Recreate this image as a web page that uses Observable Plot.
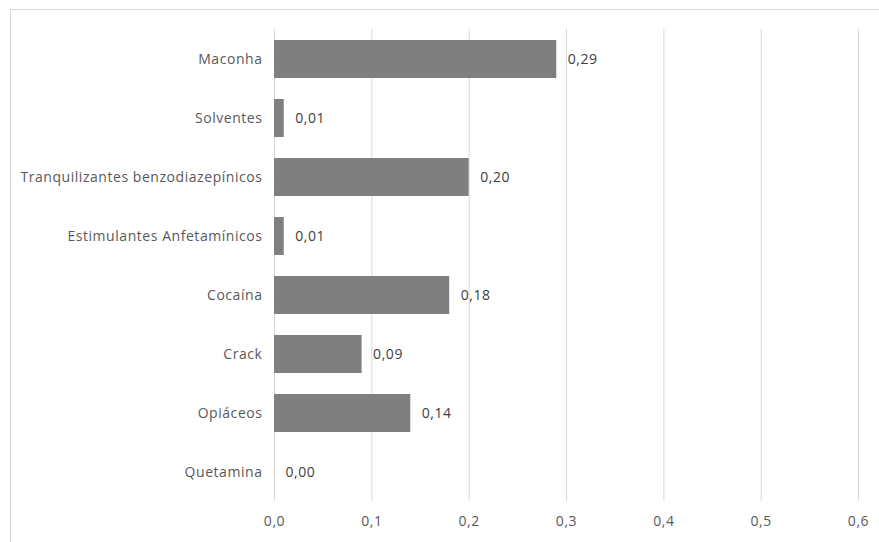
<!DOCTYPE html>
<html><head><meta charset="utf-8">
<script src="https://cdn.jsdelivr.net/npm/d3@7"></script>
<script src="https://cdn.jsdelivr.net/npm/@observablehq/plot@0.6"></script>
<style>
body{margin:0;background:#fff;overflow:hidden}
#frame{position:absolute;left:10px;top:9px;width:900px;height:600px;border-left:1px solid #d9d9d9;border-top:1px solid #d9d9d9}
#chart{position:absolute;left:0;top:0}
#chart svg text{letter-spacing:0.55px}
</style></head>
<body><div id="frame"></div><div id="chart"></div>
<script>
const categories = ["Maconha","Solventes","Tranquilizantes benzodiazepínicos","Estimulantes Anfetamínicos","Cocaína","Crack","Opiáceos","Quetamina"];
const values = [0.29,0.01,0.20,0.01,0.18,0.09,0.14,0.00];
const xTicks = [0,0.1,0.2,0.3,0.4,0.5,0.6];
const data = categories.map((c,i)=>({cat:c,val:values[i]}));
const fmt2 = v => v.toFixed(2).replace(".", ",");
const fmt1 = v => v.toFixed(1).replace(".", ",");
const plot = Plot.plot({
  width: 879, height: 542,
  marginLeft: 274, marginRight: 21, marginTop: 29, marginBottom: 41,
  style: {fontFamily: "'Open Sans', sans-serif", fontSize: "14px", color: "#595959", background: "transparent"},
  x: {domain: [0,0.6], ticks: xTicks, tickFormat: fmt1, label: null, tickSize: 0, tickPadding: 15},
  y: {domain: categories, label: null, tickSize: 0, tickPadding: 12, paddingInner: 0.36, paddingOuter: 0.18},
  marks: [
    Plot.ruleX(xTicks, {stroke: "#d9d9d9", strokeWidth: 1}),
    Plot.barX(data, {x: "val", y: "cat", fill: "#7f7f7f"}),
    Plot.text(data, {x: "val", y: "cat", text: d => fmt2(d.val), dx: 11, textAnchor: "start", fill: "#404040", fontSize: 14})
  ]
});
document.getElementById("chart").appendChild(plot);
</script></body></html>
